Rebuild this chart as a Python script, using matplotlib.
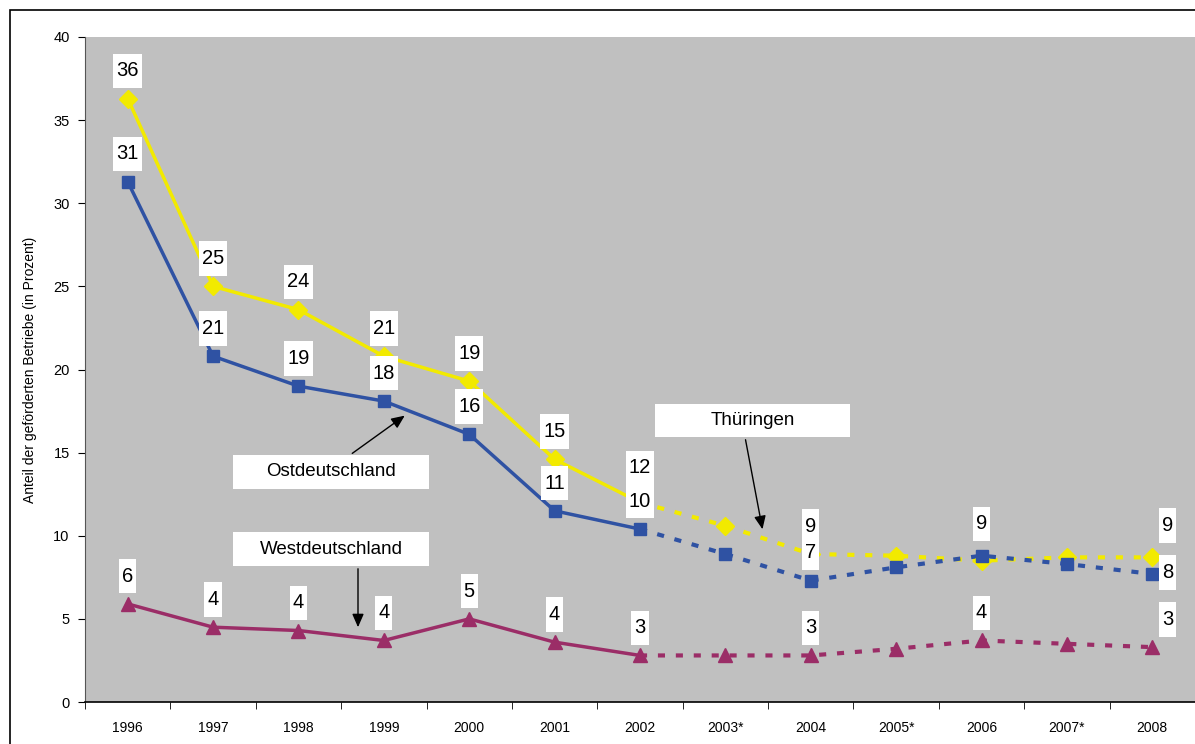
"""Anteil der geförderten Betriebe 1996-2008: Thüringen, Ost- und Westdeutschland."""
import matplotlib
matplotlib.use("Agg")
import matplotlib.pyplot as plt
from matplotlib.patches import Rectangle
from matplotlib.path import Path

plt.rcParams["font.family"] = ["Liberation Sans", "DejaVu Sans"]

YEARS = ["1996", "1997", "1998", "1999", "2000", "2001", "2002",
         "2003*", "2004", "2005*", "2006", "2007*", "2008"]

THUERINGEN = [36.3, 25.0, 23.6, 20.8, 19.3, 14.6, 12.0, 10.6, 8.9, 8.8, 8.5, 8.7, 8.7]
OST = [31.3, 20.8, 19.0, 18.1, 16.1, 11.5, 10.4, 8.9, 7.3, 8.1, 8.8, 8.3, 7.7]
WEST = [5.9, 4.5, 4.3, 3.7, 5.0, 3.6, 2.8, 2.8, 2.8, 3.2, 3.7, 3.5, 3.3]

LBL_THUER = ["36", "25", "24", "21", "19", "15", "12", None, "9", None, None, None, "9"]
LBL_OST = ["31", "21", "19", "18", "16", "11", "10", None, "7", None, "9", None, "8"]
LBL_WEST = ["6", "4", "4", "4", "5", "4", "3", None, "3", None, "4", None, "3"]

SPLIT = 6  # index of 2002: solid before, dashed after

YELLOW = "#F2EA00"
BLUE = "#2F52A3"
PURPLE = "#9B2D67"

fig = plt.figure(figsize=(11.95, 7.44), dpi=100)
ax = fig.add_axes([85 / 1195, 1 - 702 / 744, 1 - 85 / 1195, (702 - 37) / 744])
ax.set_facecolor("#C0C0C0")

# outer frame
fig.patches.append(Rectangle((10 / 1195, -0.05), 1.2, 1.05 - 10 / 744,
                             transform=fig.transFigure, fill=False,
                             edgecolor="black", linewidth=1.2, zorder=0))

x = list(range(len(YEARS)))
series = [
    (THUERINGEN, YELLOW, "D", 9),
    (OST, BLUE, "s", 9),
    (WEST, PURPLE, "^", 10),
]
for vals, col, mk, ms in series:
    ax.plot(x[:SPLIT + 1], vals[:SPLIT + 1], color=col, lw=2.5, zorder=3)
    ax.plot(x[SPLIT:], vals[SPLIT:], color=col, lw=3, ls=(0, (1.7, 2.6)),
            solid_capstyle="butt", zorder=3)
    ax.plot(x, vals, ls="none", marker=mk, ms=ms, color=col, mec=col, zorder=4)


def tall_box(x0, y0, width, height, mutation_size):
    # white label box, narrow at the sides and tall like the Excel labels
    px, py = 0.15 * mutation_size, 0.38 * mutation_size
    a, b = x0 - px, y0 - py
    c, d = x0 + width + px, y0 + height + py
    return Path([(a, b), (c, b), (c, d), (a, d), (a, b)], closed=True)


def put_labels(vals, labels, special):
    for i, (v, t) in enumerate(zip(vals, labels)):
        if t is None:
            continue
        dx, dy = special.get(i, (0, 20))
        ax.annotate(t, (i, v), xytext=(dx, dy), textcoords="offset points",
                    ha="center", va="center", fontsize=14.5, zorder=6,
                    bbox=dict(boxstyle=tall_box, fc="white", ec="none"))


put_labels(THUERINGEN, LBL_THUER, {6: (0, 25), 12: (11, 23)})
put_labels(OST, LBL_OST, {6: (0, 20), 10: (0, 23), 12: (11, 1)})
put_labels(WEST, LBL_WEST, {12: (11, 20)})


def callout(text, box, arrow_from, arrow_to):
    # box = (x0, y0, x1, y1) in figure pixels from top-left
    x0, y0, x1, y1 = box
    fig.patches.append(Rectangle((x0 / 1195, 1 - y1 / 744), (x1 - x0) / 1195,
                                 (y1 - y0) / 744, transform=fig.transFigure,
                                 fc="white", ec="none", zorder=5))
    fig.text((x0 + x1) / 2 / 1195, 1 - (y0 + y1) / 2 / 744, text, ha="center",
             va="center", fontsize=13.5, zorder=6)
    ax.annotate("", xy=(arrow_to[0] / 1195, 1 - arrow_to[1] / 744),
                xytext=(arrow_from[0] / 1195, 1 - arrow_from[1] / 744),
                xycoords="figure fraction", textcoords="figure fraction",
                arrowprops=dict(arrowstyle="-|>,head_length=0.8,head_width=0.35",
                                color="black", lw=1), zorder=6)


callout("Thüringen", (655, 404, 850, 437), (745, 437), (763, 532))
callout("Ostdeutschland", (233, 455, 429, 489), (350, 455), (407, 414))
callout("Westdeutschland", (233, 532, 429, 566), (358, 566), (358, 630))

ax.set_xlim(-0.5, 12.5)
ax.set_ylim(0, 40)
ax.set_yticks(range(0, 41, 5))
ax.set_xticks(x)
ax.set_xticklabels(YEARS, fontsize=10)
ax.set_xticks([i + 0.5 for i in range(-1, 13)], minor=True)
ax.tick_params(axis="x", which="major", length=0, pad=14)
ax.tick_params(axis="x", which="minor", length=5, direction="out")
ax.tick_params(axis="y", length=5, direction="out", labelsize=10.5, pad=6)
for s in ("top", "right"):
    ax.spines[s].set_visible(False)
ax.spines["bottom"].set_linewidth(1.2)
ax.spines["left"].set_color("#555555")

ax.set_ylabel("Anteil der geförderten Betriebe (in Prozent)", fontsize=10, labelpad=12)

fig.savefig("out.png", dpi=100)
